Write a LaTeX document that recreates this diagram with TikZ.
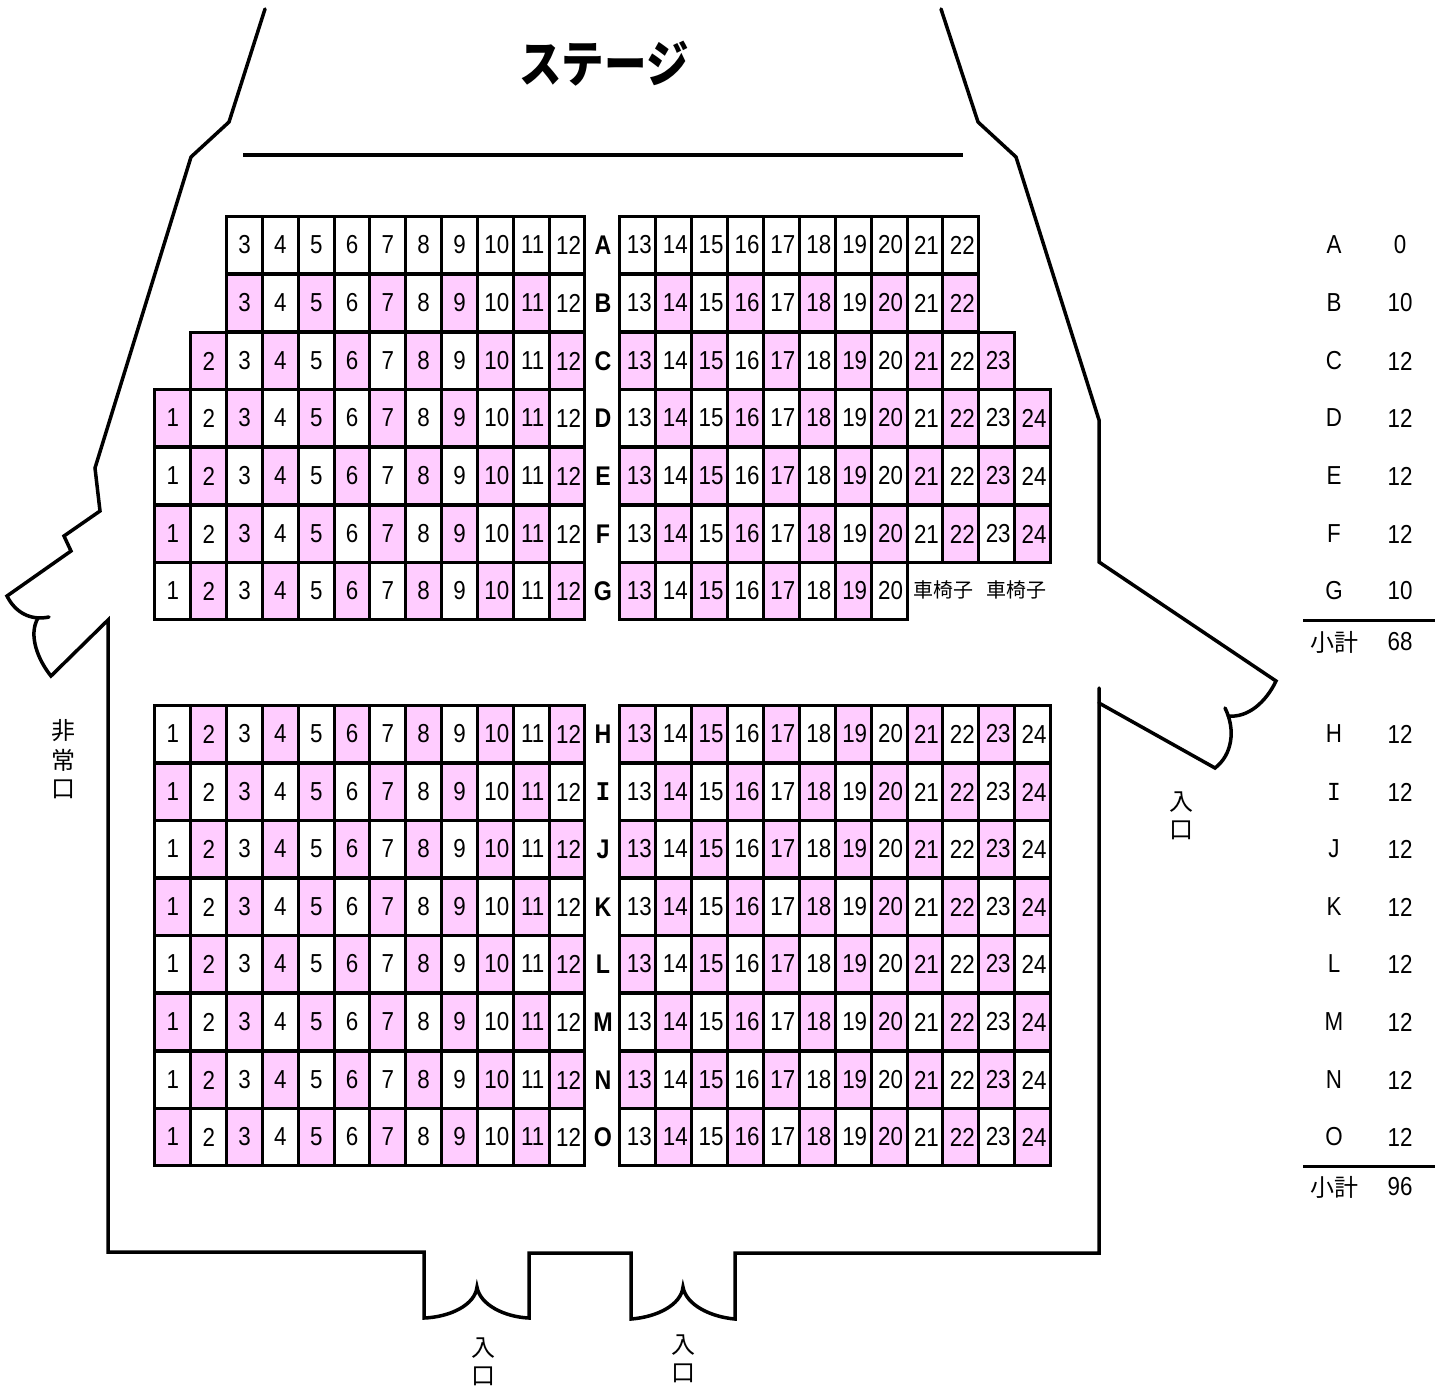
\documentclass[tikz,border=0pt]{standalone}
\usepackage{fontspec}
\setmainfont[FakeStretch=0.86]{Liberation Sans}
\newfontfamily\serifletter[FakeStretch=0.88]{Liberation Mono}
\newfontfamily\cjk{Noto Sans CJK JP}
\newfontfamily\cjknarrow[FakeStretch=0.85]{Noto Sans CJK JP}
\usetikzlibrary{positioning}
\definecolor{seatpink}{RGB}{255, 204, 255}
\newcommand{\letterI}{{\serifletter I}}
\tikzset{
    seat/.style={draw=black, line width=3pt, minimum width=35.88pt, minimum height=57.6pt, inner sep=0pt, font=\fontsize{26}{26}\selectfont},
    rowlabel/.style={inner sep=0pt, font=\fontsize{27}{27}\selectfont\bfseries},
    tablecell/.style={inner sep=0pt, font=\fontsize{26}{26}\selectfont},
    kana/.style={inner sep=0pt, font=\fontsize{24}{24}\selectfont\cjk},
    wall/.style={line width=3.5pt, line cap=round}
}

\begin{document}
\begin{tikzpicture}[x=1pt, y=-1pt]
    \useasboundingbox (0,0) rectangle (1445,1393);

    % seats, row labels and the table on the right
    \foreach \rowid/\rowtext/\ry/\first/\last/\flip/\pinks/\seatcount in {
        A/A/245/3/22/0/0/0, B/B/303/3/22/0/1/10, C/C/361/2/23/1/1/12,
        D/D/418/1/24/0/1/12, E/E/476/1/24/1/1/12, F/F/534/1/24/0/1/12,
        G/G/591/1/20/1/1/10,
        H/H/734/1/24/1/1/12, I/\letterI/792/1/24/0/1/12, J/J/849/1/24/1/1/12,
        K/K/907/1/24/0/1/12, L/L/964/1/24/1/1/12, M/M/1022/1/24/0/1/12,
        N/N/1080/1/24/1/1/12, O/O/1137/1/24/0/1/12} {
        \foreach \c in {\first,...,\last} {
            \pgfmathsetmacro{\sx}{\c<13 ? 172.9+(\c-1)*35.83 : 637.9+(\c-13)*35.88}
            \pgfmathtruncatemacro{\pick}{\pinks*mod(\c+(\c>12)+\flip,2)}
            \ifnum\pick=1 \def\seatfill{seatpink}\else\def\seatfill{white}\fi
            \node[seat, fill=\seatfill] (seat-\rowid-\c) at (\sx,\ry) {\ifnum\c>9 \hspace{3pt}\fi\c};
        }
        \node[rowlabel] (row-\rowid) at (603,\ry) {\rowtext};
        \node[tablecell] (name-\rowid) at (1334,\ry) {\rowtext};
        \node[tablecell] (count-\rowid) at (1400,\ry) {\seatcount};
    }

    % wheelchair spaces
    \node[kana, font=\fontsize{20}{20}\selectfont\cjk] (chair-a) at (943,590) {車椅子};
    \node[kana, font=\fontsize{20}{20}\selectfont\cjk] (chair-b) at (1016,590) {車椅子};

    % subtotals
    \draw[line width=3pt] (1303,620) -- (1435,620);
    \node[kana] (sub-a) at (1334,642) {小計};
    \node[tablecell] (sum-a) at (1400,642) {68};
    \draw[line width=3pt] (1303,1166) -- (1435,1166);
    \node[kana] (sub-b) at (1334,1187) {小計};
    \node[tablecell] (sum-b) at (1400,1187) {96};

    % stage
    \node[inner sep=0pt, font=\fontsize{50}{50}\selectfont\cjknarrow\bfseries] (stage) at (604,64) {ステージ};
    \draw[wall, line cap=butt] (243,155) -- (963,155);

    % walls, left side
    \draw[wall] (265,9) -- (229,122) -- (191,157) -- (95,468) -- (100,511) -- (64,536) -- (71,551) -- (7,596)
        .. controls (15,612) and (30,621) .. (49,617);
    \draw[wall] (38,618) .. controls (28,635) and (38,660) .. (51,676) -- (108,620) -- (108,1252) -- (424,1252) -- (424,1318)
        .. controls (450,1317) and (475,1305) .. (477,1287)
        .. controls (480,1305) and (505,1317) .. (529,1318)
        -- (529,1253) -- (631,1253) -- (631,1319)
        .. controls (657,1317) and (681,1305) .. (683,1287)
        .. controls (686,1305) and (711,1317) .. (735,1319)
        -- (735,1253) -- (1099,1253) -- (1099,688);

    % walls, right side
    \draw[wall] (941,9) -- (978,122) -- (1016,157) -- (1099,420) -- (1099,562) -- (1276,681)
        .. controls (1266,702) and (1248,718) .. (1228,716);
    \draw[wall] (1225,708) .. controls (1236,730) and (1232,755) .. (1215,768) -- (1099,703);

    % doors
    \node[kana] (exit-a) at (63,731) {非};
    \node[kana] (exit-b) at (63,760) {常};
    \node[kana] (exit-c) at (63,789) {口};
    \node[kana] (side-a) at (1181,802) {入};
    \node[kana] (side-b) at (1181,830) {口};
    \node[kana] (door-a) at (483,1348) {入};
    \node[kana] (door-b) at (483,1376) {口};
    \node[kana] (door-c) at (683,1345) {入};
    \node[kana] (door-d) at (683,1373) {口};
\end{tikzpicture}
\end{document}
